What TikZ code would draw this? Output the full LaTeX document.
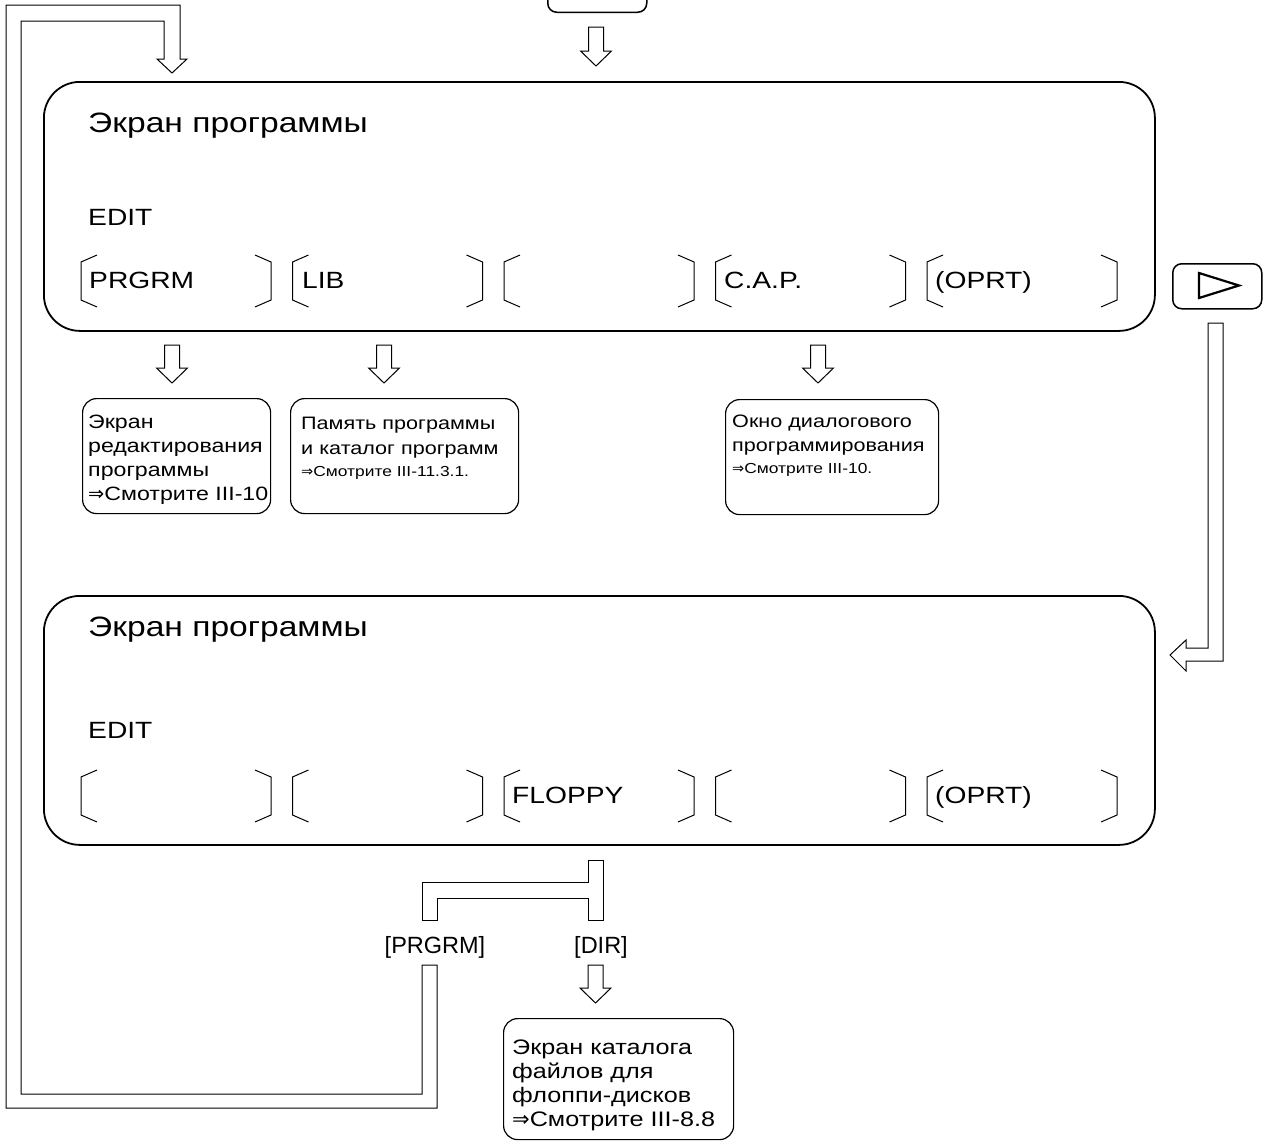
\documentclass[tikz,border=0pt]{standalone}
\usepackage{fontspec}
\setmainfont{Liberation Sans}[FakeStretch=1.2]
\newfontfamily\plainf{Liberation Sans}
\newfontfamily\symfont{DejaVu Sans}
\newcommand{\myimp}{{\symfont ⇒}}
\newcommand{\smtxt}{\fontsize{14.5}{18}\selectfont}
\newcommand{\hdown}[4]{%
  \draw[blockarrow] (#1-7.5,#2) -- (#1+7.5,#2) -- (#1+7.5,#3) -- (#1+15.5,#3)
    -- (#1,#4) -- (#1-15.5,#3) -- (#1-7.5,#3) -- cycle;}
\begin{document}
\begin{tikzpicture}[x=1pt,y=-1pt,
  bigbox/.style={draw, line width=1.8pt, rounded corners=36pt, inner sep=0pt, anchor=north west},
  smallbox/.style={draw, line width=1.2pt, rounded corners=14pt, inner sep=0pt, anchor=north west},
  keybox/.style={draw, line width=1.5pt, rounded corners=9pt, inner sep=0pt},
  blockarrow/.style={draw, line width=1pt, line join=miter},
  brk/.style={draw, line width=1pt},
  lbl/.style={anchor=base west, inner sep=0pt, font=\fontsize{23.5}{28}\selectfont},
  ttl/.style={anchor=base west, inner sep=0pt, font=\fontsize{28}{32}\selectfont},
  brlbl/.style={anchor=base, inner sep=0pt, font=\plainf\fontsize{23.5}{28}\selectfont},
  boxtxt/.style={anchor=north west, inner sep=0pt, align=left}
]
\useasboundingbox (0,0) rectangle (1264,1146);
\clip (0,0) rectangle (1264,1146);

% top key
\node[keybox, minimum width=99pt, minimum height=50pt, anchor=south west] (topkey) at (547,13) {};
\hdown{596}{27}{51}{66}

% left feedback loop (double line with arrow)
\draw[blockarrow] (6,1108) -- (6,5) -- (180,5) -- (180,59) -- (187,59) -- (172,73)
  -- (157,59) -- (164,59) -- (164,21) -- (21,21) -- (21,1094) -- (422,1094)
  -- (422,965) -- (437,965) -- (437,1108) -- cycle;

% screen 1
\node[bigbox, minimum width=1111pt, minimum height=249pt] (scr1) at (43,81) {};
\node[ttl] (t1) at (88,132) {Экран программы};
\node[lbl] (e1) at (88,225) {EDIT};
\foreach \i in {0,...,4} {
  \pgfmathsetmacro\xo{81+211.5*\i}
  \draw[brk] (\xo+16,255) -- (\xo,262) -- (\xo,300) -- (\xo+16,307);
  \draw[brk] (\xo+174,255) -- (\xo+190,262) -- (\xo+190,300) -- (\xo+174,307);
}
\node[lbl] (k11) at (89,288) {PRGRM};
\node[lbl] (k12) at (302,288) {LIB};
\node[lbl] (k14) at (724,288) {C.A.P.};
\node[lbl] (k15) at (935,288) {(OPRT)};

% next key
\node[keybox, minimum width=89pt, minimum height=45pt, anchor=north west] (nextkey) at (1172,263) {};
\draw[line width=2.2pt, line join=miter] (1199,273) -- (1239,285.5) -- (1199,298) -- cycle;
\draw[blockarrow] (1208,323) -- (1223,323) -- (1223,661) -- (1186,661) -- (1186,671)
  -- (1170,655) -- (1186,640) -- (1186,648) -- (1208,648) -- cycle;

% arrows below screen 1
\hdown{172}{345}{368}{383}
\hdown{384}{345}{368}{383}
\hdown{818}{345}{368}{383}

% sub-screens
\node[smallbox, minimum width=188pt, minimum height=115pt] (b1) at (82,398) {};
\node[boxtxt, font=\fontsize{19.3}{24}\selectfont] at (88,415) {Экран\\редактирования\\программы\\\myimp Смотрите III-10};
\node[smallbox, minimum width=228pt, minimum height=115pt] (b2) at (290,398) {};
\node[boxtxt, font=\fontsize{18}{25}\selectfont] at (301,416.5) {Память программы\\и каталог программ\\[-3pt]{\smtxt\myimp Смотрите III-11.3.1.}};
\node[smallbox, minimum width=213pt, minimum height=115pt] (b3) at (725,399) {};
\node[boxtxt, font=\fontsize{18}{24}\selectfont] at (732,414.5) {Окно диалогового\\программирования\\[-2pt]{\smtxt\myimp Смотрите III-10.}};

% screen 2
\node[bigbox, minimum width=1111pt, minimum height=249pt] (scr2) at (43,595) {};
\node[ttl] (t2) at (88,636) {Экран программы};
\node[lbl] (e2) at (88,738) {EDIT};
\foreach \i in {0,...,4} {
  \pgfmathsetmacro\xo{81+211.5*\i}
  \draw[brk] (\xo+16,770) -- (\xo,777) -- (\xo,815) -- (\xo+16,822);
  \draw[brk] (\xo+174,770) -- (\xo+190,777) -- (\xo+190,815) -- (\xo+174,822);
}
\node[lbl] (k23) at (512,803) {FLOPPY};
\node[lbl] (k25) at (935,803) {(OPRT)};

% branch
\draw[blockarrow] (588,860) -- (603,860) -- (603,920) -- (588,920) -- (588,898)
  -- (437,898) -- (437,920) -- (422,920) -- (422,882) -- (588,882) -- cycle;
\node[brlbl] (lp) at (435,953) {[PRGRM]};
\node[brlbl] (ld) at (601,953) {[DIR]};
\hdown{595.5}{965}{988}{1003}

% floppy directory
\node[smallbox, minimum width=230pt, minimum height=121pt] (b4) at (503,1018) {};
\node[boxtxt, font=\fontsize{21}{24}\selectfont] at (512,1040) {Экран каталога\\файлов для\\флоппи-дисков\\\myimp Смотрите III-8.8};
\end{tikzpicture}
\end{document}
